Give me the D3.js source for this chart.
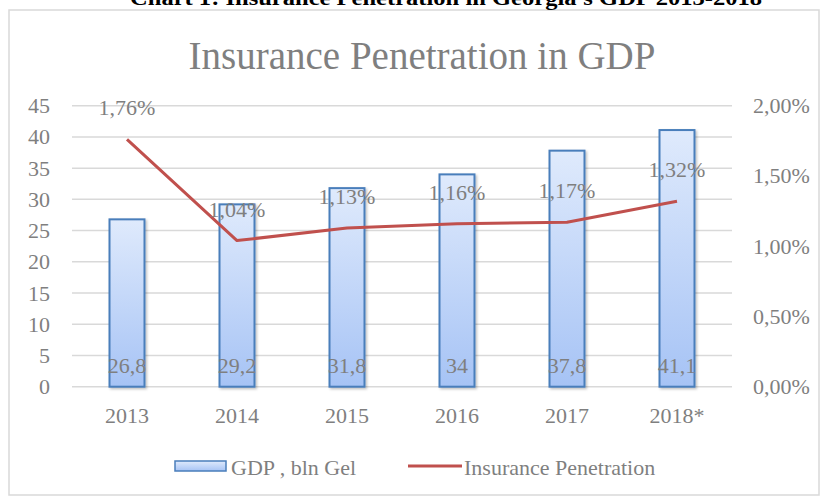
<!DOCTYPE html>
<html>
<head>
<meta charset="utf-8">
<script src="https://cdn.jsdelivr.net/npm/d3@7"></script>
<style>
  body { margin: 0; background: #fff; }
  text { font-family: "Liberation Serif", "Times New Roman", serif; }
</style>
</head>
<body>
<svg id="chart" width="822" height="497"></svg>
<script>
// Chart data
const years = ["2013", "2014", "2015", "2016", "2017", "2018*"];
const gdp = [26.8, 29.2, 31.8, 34, 37.8, 41.1];
const penetration = [1.76, 1.04, 1.13, 1.16, 1.17, 1.32];
const leftTicks = [0, 5, 10, 15, 20, 25, 30, 35, 40, 45];
const rightTicks = [0, 0.5, 1, 1.5, 2];

const grey = "#7f7f7f";
const fs = 22;
const svg = d3.select("#chart");
const plot = { left: 72, right: 732, top: 105.7, bottom: 386.7 };

// comma decimals, as in the source
const loc = d3.formatLocale({ decimal: ",", thousands: " ", grouping: [3], currency: ["", ""] });
const fmtPct = v => loc.format(".2f")(v) + "%";
const fmtNum = v => loc.format("~g")(v);

// Scales
const x = d3.scaleBand().domain(years).range([plot.left, plot.right])
  .paddingInner(0.682).paddingOuter(0.341);
const yL = d3.scaleLinear().domain([0, 45]).range([plot.bottom, plot.top]);
const yR = d3.scaleLinear().domain([0, 2]).range([plot.bottom, plot.top]);

// Gradient for bars
const defs = svg.append("defs");
const grad = defs.append("linearGradient").attr("id", "barGrad")
  .attr("x1", 0).attr("y1", 0).attr("x2", 0).attr("y2", 1);
grad.append("stop").attr("offset", "0%").attr("stop-color", "#dfeafc");
grad.append("stop").attr("offset", "100%").attr("stop-color", "#a6c3f5");
defs.append("filter").attr("id", "shadow").attr("x", "-20%").attr("y", "-5%")
  .attr("width", "150%").attr("height", "115%")
  .append("feDropShadow").attr("dx", 1.5).attr("dy", 1.5).attr("stdDeviation", 1.2)
  .attr("flood-color", "#000").attr("flood-opacity", 0.25);

// Outer frame
svg.append("rect").attr("x", 9).attr("y", 10).attr("width", 810).attr("height", 485)
  .attr("fill", "none").attr("stroke", "#d9d9d9").attr("stroke-width", 1.5);

// Top caption (cut off at the top in the source)
svg.append("text").attr("x", 446).attr("y", 5).attr("text-anchor", "middle")
  .attr("font-size", 22).attr("font-weight", "bold").attr("fill", "#000")
  .attr("textLength", 632).attr("lengthAdjust", "spacingAndGlyphs")
  .text("Chart 1: Insurance Penetration in Georgia's GDP 2013-2018");

// Chart title
svg.append("text").attr("x", 422).attr("y", 69).attr("text-anchor", "middle")
  .attr("font-size", 39).attr("fill", grey)
  .text("Insurance Penetration in GDP");

// Gridlines
svg.append("g").selectAll("line").data(leftTicks).join("line")
  .attr("x1", plot.left).attr("x2", plot.right)
  .attr("y1", d => yL(d)).attr("y2", d => yL(d))
  .attr("stroke", "#d9d9d9").attr("stroke-width", 1.5);

// Left axis
const axL = svg.append("g").attr("transform", `translate(${plot.left - 22},0)`)
  .call(d3.axisLeft(yL).tickValues(leftTicks).tickSize(0).tickPadding(0));
axL.select(".domain").remove();
axL.selectAll("text").attr("font-size", fs).attr("fill", grey)
  .attr("font-family", "Liberation Serif");

// Right axis
const axR = svg.append("g").attr("transform", `translate(${plot.right + 21},0)`)
  .call(d3.axisRight(yR).tickValues(rightTicks).tickSize(0).tickPadding(0).tickFormat(fmtPct));
axR.select(".domain").remove();
axR.selectAll("text").attr("font-size", fs).attr("fill", grey)
  .attr("font-family", "Liberation Serif");

// Bottom axis
const axB = svg.append("g").attr("transform", `translate(0,${plot.bottom + 21})`)
  .call(d3.axisBottom(x).tickSize(0).tickPadding(0));
axB.select(".domain").remove();
axB.selectAll("text").attr("font-size", fs).attr("fill", grey)
  .attr("font-family", "Liberation Serif").attr("dy", "0.71em");

// Bars
svg.append("g").selectAll("rect").data(gdp).join("rect")
  .attr("x", (d, i) => x(years[i]))
  .attr("y", d => yL(d))
  .attr("width", x.bandwidth())
  .attr("height", d => yL(0) - yL(d))
  .attr("fill", "url(#barGrad)")
  .attr("stroke", "#4a7ebb").attr("stroke-width", 2)
  .attr("filter", "url(#shadow)");

// Bar labels (inside base)
svg.append("g").selectAll("text").data(gdp).join("text")
  .attr("x", (d, i) => x(years[i]) + x.bandwidth() / 2)
  .attr("y", yL(0) - 14)
  .attr("text-anchor", "middle").attr("font-size", fs).attr("fill", grey)
  .text(d => fmtNum(d));

// Penetration line
const line = d3.line()
  .x((d, i) => x(years[i]) + x.bandwidth() / 2)
  .y(d => yR(d));
svg.append("path").datum(penetration)
  .attr("d", line).attr("fill", "none")
  .attr("stroke", "#c0504d").attr("stroke-width", 3)
  .attr("stroke-linejoin", "round");

// Line labels
svg.append("g").selectAll("text").data(penetration).join("text")
  .attr("x", (d, i) => x(years[i]) + x.bandwidth() / 2)
  .attr("y", d => yR(d) - 24)
  .attr("text-anchor", "middle").attr("font-size", fs).attr("fill", grey)
  .text(d => fmtPct(d));

// Legend
const lg = svg.append("g");
lg.append("rect").attr("x", 175).attr("y", 461).attr("width", 51).attr("height", 10)
  .attr("fill", "url(#barGrad)").attr("stroke", "#4a7ebb").attr("stroke-width", 1.5);
lg.append("text").attr("x", 231).attr("y", 475).attr("font-size", fs).attr("fill", grey)
  .text("GDP , bln Gel");
lg.append("line").attr("x1", 408).attr("x2", 462).attr("y1", 466).attr("y2", 466)
  .attr("stroke", "#c0504d").attr("stroke-width", 3);
lg.append("text").attr("x", 464).attr("y", 475).attr("font-size", fs).attr("fill", grey)
  .text("Insurance Penetration");
</script>
</body>
</html>
